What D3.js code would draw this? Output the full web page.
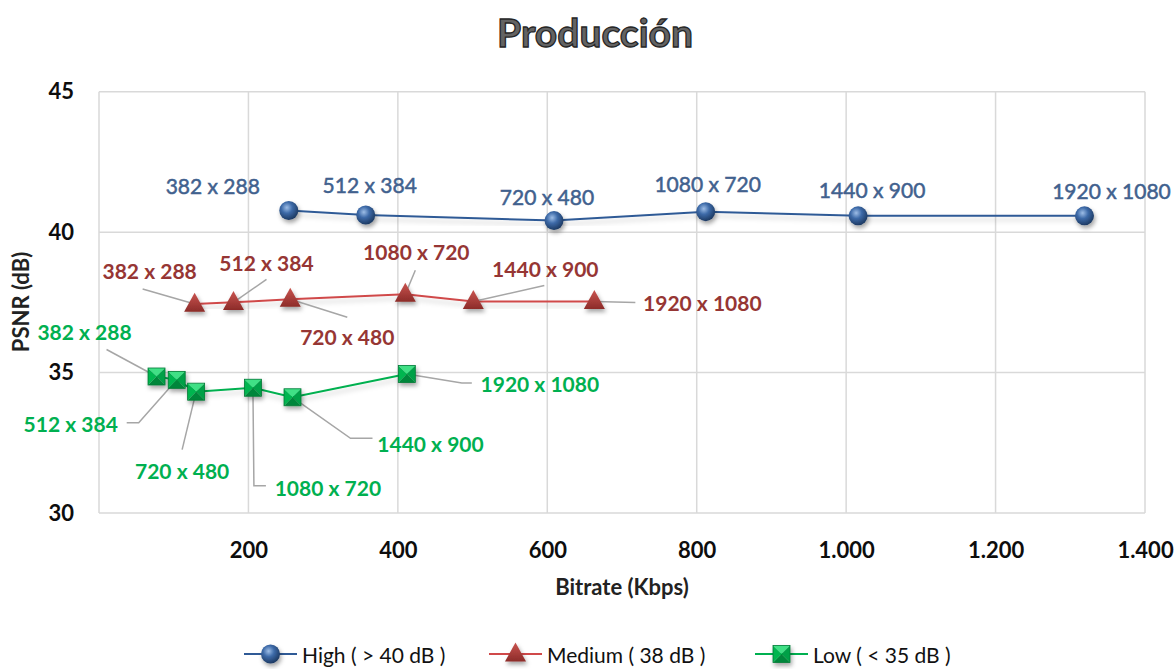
<!DOCTYPE html>
<html>
<head>
<meta charset="utf-8">
<script src="https://cdnjs.cloudflare.com/ajax/libs/d3/7.8.5/d3.min.js"></script>
<style>
  body { margin: 0; background: #fff; }
  text { font-family: Lato, "Open Sans", sans-serif; }
</style>
</head>
<body>
<svg id="chart" width="1175" height="669"></svg>
<script>
const svg = d3.select("#chart");

// ---- data ----
const resolutions = ["382 x 288", "512 x 384", "720 x 480", "1080 x 720", "1440 x 900", "1920 x 1080"];

const highBitrate = [254, 357, 609, 812, 1016, 1319];
const highPsnr = [40.77, 40.61, 40.41, 40.73, 40.58, 40.58];

const mediumBitrate = [128, 180, 256, 410, 501, 663];
const mediumPsnr = [37.44, 37.50, 37.61, 37.79, 37.53, 37.53];

const lowBitrate = [77, 104, 130, 206, 259, 412];
const lowPsnr = [34.86, 34.74, 34.32, 34.46, 34.12, 34.95];

const xTicks = [200, 400, 600, 800, 1000, 1200, 1400];
const yTicks = [30, 35, 40, 45];

const seriesNames = ["High ( > 40 dB )", "Medium ( 38 dB )", "Low ( < 35 dB )"];

// label placement (pixel offsets from each point), leader polylines end at the point
const highLabelOffsets = [[-76, -25], [4, -31], [-7, -24], [2, -28], [14, -26], [27, -25]];
const mediumLabelOffsets = [[-45, -34], [33, -40], [57, 37], [11, -43], [72, -33], [108, 1]];
const mediumLeaders = [[[-52, -15]], [[33, -23]], [[57, 18]], [[10, -24]], [[71, -16]], [[41, 1]]];
const lowLabelOffsets = [[-72, -45], [-106, 44], [-14, 79], [75, 100], [138, 46], [133, 10]];
const lowLeaders = [[[-50, -27]], [[-50, 43], [-38, 43]], [[-14, 58]], [[13, 98], [1, 98]], [[80, 41], [58, 41]], [[65, 9], [55, 9]]];

// ---- layout ----
const x = d3.scaleLinear().domain([0, 1400]).range([99, 1145]);
const y = d3.scaleLinear().domain([30, 45]).range([513, 91.7]);

const esFormat = d3.formatLocale({ decimal: ",", thousands: ".", grouping: [3], currency: ["", "€"] }).format(",");

const defs = svg.append("defs");

const shadow = defs.append("filter").attr("id", "shadow")
  .attr("x", "-50%").attr("y", "-50%").attr("width", "200%").attr("height", "200%");
shadow.append("feDropShadow").attr("dx", 1.5).attr("dy", 3).attr("stdDeviation", 2)
  .attr("flood-color", "#000").attr("flood-opacity", 0.35);

const lineShadow = defs.append("filter").attr("id", "lineShadow")
  .attr("x", "-5%").attr("y", "-50%").attr("width", "110%").attr("height", "200%");
lineShadow.append("feDropShadow").attr("dx", 0).attr("dy", 4).attr("stdDeviation", 2.5)
  .attr("flood-color", "#000").attr("flood-opacity", 0.18);

const sphere = defs.append("radialGradient").attr("id", "sphere")
  .attr("cx", "40%").attr("cy", "35%").attr("r", "65%");
sphere.append("stop").attr("offset", "0%").attr("stop-color", "#9dbde6");
sphere.append("stop").attr("offset", "45%").attr("stop-color", "#3d6aa8");
sphere.append("stop").attr("offset", "100%").attr("stop-color", "#1d3a63");

const tri = defs.append("linearGradient").attr("id", "tri")
  .attr("x1", 0).attr("y1", 0).attr("x2", 0).attr("y2", 1);
tri.append("stop").attr("offset", "0%").attr("stop-color", "#c9544f");
tri.append("stop").attr("offset", "100%").attr("stop-color", "#8c2b29");

// title
svg.append("text")
  .attr("x", 595).attr("y", 47)
  .attr("text-anchor", "middle")
  .attr("font-size", "39px").attr("font-weight", "bold")
  .attr("fill", "#636363").attr("stroke", "#262626").attr("stroke-width", 1.3)
  .text("Producción");

// grid
svg.append("g").selectAll("line").data(yTicks).enter().append("line")
  .attr("x1", x(0)).attr("x2", x(1400))
  .attr("y1", d => y(d)).attr("y2", d => y(d))
  .attr("stroke", "#d9d9d9").attr("stroke-width", 1.5);

svg.append("g").selectAll("line").data([0].concat(xTicks)).enter().append("line")
  .attr("x1", d => x(d)).attr("x2", d => x(d))
  .attr("y1", y(30)).attr("y2", y(45))
  .attr("stroke", "#d9d9d9").attr("stroke-width", 1.5);

// axes labels
const xAxis = svg.append("g")
  .attr("transform", "translate(0," + (y(30) + 26) + ")")
  .call(d3.axisBottom(x).tickValues(xTicks).tickFormat(esFormat).tickSize(0));
xAxis.select(".domain").remove();
xAxis.selectAll("text")
  .attr("font-family", "Lato, sans-serif")
  .attr("font-size", "22px").attr("font-weight", "bold").attr("fill", "#0d0d0d");

const yAxis = svg.append("g")
  .attr("transform", "translate(" + (x(0) - 22) + ",0)")
  .call(d3.axisLeft(y).tickValues(yTicks).tickSize(0));
yAxis.select(".domain").remove();
yAxis.selectAll("text")
  .attr("font-family", "Lato, sans-serif")
  .attr("font-size", "22px").attr("font-weight", "bold").attr("fill", "#0d0d0d");

svg.append("text")
  .attr("x", 622).attr("y", 595)
  .attr("text-anchor", "middle")
  .attr("font-size", "22px").attr("font-weight", "bold").attr("fill", "#222")
  .text("Bitrate (Kbps)");

svg.append("text")
  .attr("transform", "translate(29,302) rotate(-90)")
  .attr("text-anchor", "middle")
  .attr("font-size", "22px").attr("font-weight", "bold").attr("fill", "#222")
  .text("PSNR (dB)");

// series
const series = [
  { name: seriesNames[0], xs: highBitrate, ys: highPsnr, color: "#2f5a96", labelColor: "#41618e", weight: "normal", marker: "circle", offsets: highLabelOffsets, leaders: null },
  { name: seriesNames[1], xs: mediumBitrate, ys: mediumPsnr, color: "#d0494a", labelColor: "#963634", weight: "bold", marker: "triangle", offsets: mediumLabelOffsets, leaders: mediumLeaders },
  { name: seriesNames[2], xs: lowBitrate, ys: lowPsnr, color: "#00b050", labelColor: "#00b050", weight: "bold", marker: "square", offsets: lowLabelOffsets, leaders: lowLeaders }
];

const line = d3.line().x(d => x(d[0])).y(d => y(d[1]));

function drawMarker(g, type, cx, cy) {
  if (type === "circle") {
    g.append("circle").attr("cx", cx).attr("cy", cy).attr("r", 9.5)
      .attr("fill", "url(#sphere)").attr("filter", "url(#shadow)");
  } else if (type === "triangle") {
    const h = 19, w = 21;
    g.append("path")
      .attr("d", "M" + cx + "," + (cy - h * 0.6) + "L" + (cx + w / 2) + "," + (cy + h * 0.4) + "L" + (cx - w / 2) + "," + (cy + h * 0.4) + "Z")
      .attr("fill", "url(#tri)").attr("filter", "url(#shadow)");
  } else {
    const s = 8.5;
    const m = g.append("g").attr("filter", "url(#shadow)");
    const c = [cx, cy], tl = [cx - s, cy - s], tr = [cx + s, cy - s], br = [cx + s, cy + s], bl = [cx - s, cy + s];
    const faces = [[tl, tr, "#3fe085"], [tr, br, "#00a047"], [br, bl, "#00863a"], [bl, tl, "#00b550"]];
    faces.forEach(f => {
      m.append("path").attr("d", "M" + f[0] + "L" + f[1] + "L" + c + "Z").attr("fill", f[2]);
    });
    m.append("rect").attr("x", cx - s).attr("y", cy - s).attr("width", 2 * s).attr("height", 2 * s)
      .attr("fill", "none").attr("stroke", "#007a35").attr("stroke-width", 0.8);
  }
}

series.forEach(s => {
  const pts = s.xs.map((v, i) => [v, s.ys[i]]);
  const g = svg.append("g");

  g.append("path").attr("d", line(pts))
    .attr("fill", "none").attr("stroke", s.color).attr("stroke-width", 2)
    .attr("filter", "url(#lineShadow)");

  // leader lines
  if (s.leaders) {
    pts.forEach((p, i) => {
      const px = x(p[0]), py = y(p[1]);
      const poly = s.leaders[i].map(o => [px + o[0], py + o[1]]).concat([[px, py]]);
      g.append("path").attr("d", d3.line()(poly))
        .attr("fill", "none").attr("stroke", "#a6a6a6").attr("stroke-width", 1.5);
    });
  }

  pts.forEach(p => drawMarker(g, s.marker, x(p[0]), y(p[1])));

  pts.forEach((p, i) => {
    g.append("text")
      .attr("x", x(p[0]) + s.offsets[i][0])
      .attr("y", y(p[1]) + s.offsets[i][1])
      .attr("text-anchor", "middle").attr("dominant-baseline", "central")
      .attr("font-size", "21px").attr("font-weight", s.weight)
      .attr("fill", s.labelColor)
      .attr("stroke", s.weight === "normal" ? s.labelColor : "none")
      .attr("stroke-width", 0.5)
      .text(resolutions[i]);
  });
});

// legend
const legendX = [244, 489, 755];
const legendY = 654;
series.forEach((s, i) => {
  const lx = legendX[i];
  svg.append("line").attr("x1", lx).attr("x2", lx + 53)
    .attr("y1", legendY).attr("y2", legendY)
    .attr("stroke", s.color).attr("stroke-width", 2);
  drawMarker(svg, s.marker, lx + 26.5, legendY);
  svg.append("text")
    .attr("x", lx + 58).attr("y", legendY)
    .attr("dominant-baseline", "central")
    .attr("font-size", "21px").attr("fill", "#111")
    .text(s.name);
});
</script>
</body>
</html>
